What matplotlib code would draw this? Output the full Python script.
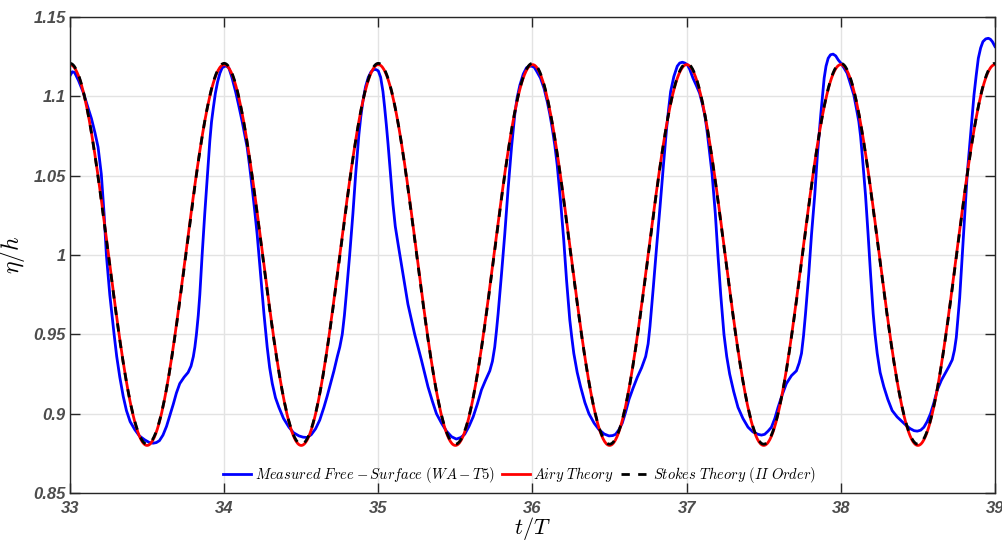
import numpy as np
import matplotlib
matplotlib.use('Agg')
import matplotlib.pyplot as plt

#measured free-surface (WA-T5)
t_meas = [33.0, 33.015, 33.03, 33.055, 33.084, 33.11, 33.139, 33.162, 33.182, 33.203,
          33.221, 33.236, 33.258, 33.286, 33.303, 33.323, 33.345, 33.366, 33.39, 33.42,
          33.45, 33.485, 33.515, 33.539, 33.56, 33.58, 33.603, 33.626, 33.648, 33.67,
          33.69, 33.712, 33.74, 33.766, 33.785, 33.80, 33.81, 33.82, 33.832, 33.842,
          33.857, 33.874, 33.892, 33.907, 33.918, 33.93, 33.943, 33.957, 33.972, 33.987,
          34.004, 34.015, 34.03, 34.05, 34.074, 34.095, 34.117, 34.133, 34.149, 34.165,
          34.182, 34.198, 34.214, 34.236, 34.258, 34.279, 34.295, 34.312, 34.333, 34.355,
          34.385, 34.42, 34.45, 34.485, 34.512, 34.539, 34.565, 34.593, 34.62, 34.647,
          34.668, 34.69, 34.712, 34.734, 34.75, 34.766, 34.78, 34.792, 34.814, 34.835,
          34.853, 34.874, 34.886, 34.9, 34.917, 34.935, 34.953, 34.972, 34.987, 35.0,
          35.015, 35.03, 35.041, 35.052, 35.063, 35.074, 35.095, 35.11, 35.128, 35.16,
          35.192, 35.236, 35.279, 35.322, 35.35, 35.377, 35.41, 35.442, 35.475, 35.506,
          35.535, 35.56, 35.588, 35.615, 35.642, 35.669, 35.695, 35.723, 35.74, 35.755,
          35.766, 35.777, 35.799, 35.82, 35.842, 35.864, 35.885, 35.9, 35.918, 35.94,
          35.961, 35.978, 35.994, 36.01, 36.026, 36.052, 36.075, 36.095, 36.112, 36.128,
          36.145, 36.16, 36.182, 36.203, 36.221, 36.242, 36.255, 36.268, 36.29, 36.312,
          36.34, 36.366, 36.4, 36.431, 36.465, 36.496, 36.52, 36.539, 36.56, 36.582,
          36.604, 36.626, 36.652, 36.68, 36.708, 36.734, 36.75, 36.762, 36.784, 36.805,
          36.827, 36.848, 36.87, 36.883, 36.896, 36.917, 36.939, 36.955, 36.972, 36.988,
          37.004, 37.02, 37.041, 37.062, 37.084, 37.1, 37.117, 37.13, 37.143, 37.165,
          37.186, 37.203, 37.221, 37.242, 37.26, 37.279, 37.305, 37.333, 37.365, 37.398,
          37.43, 37.463, 37.485, 37.506, 37.528, 37.55, 37.572, 37.593, 37.62, 37.647,
          37.68, 37.712, 37.73, 37.745, 37.758, 37.771, 37.792, 37.81, 37.831, 37.848,
          37.87, 37.892, 37.904, 37.918, 37.933, 37.95, 37.967, 37.983, 38.0, 38.02,
          38.041, 38.062, 38.084, 38.1, 38.117, 38.128, 38.139, 38.16, 38.177, 38.193,
          38.21, 38.222, 38.236, 38.255, 38.279, 38.305, 38.333, 38.365, 38.398, 38.425,
          38.45, 38.475, 38.496, 38.518, 38.539, 38.56, 38.582, 38.604, 38.626, 38.652,
          38.68, 38.703, 38.723, 38.737, 38.749, 38.771, 38.788, 38.805, 38.82, 38.842,
          38.864, 38.878, 38.892, 38.907, 38.922, 38.94, 38.957, 38.97, 38.983, 39.0]
eta_meas = [1.113, 1.1155, 1.115, 1.110, 1.103, 1.095, 1.086, 1.077, 1.068, 1.051,
            1.026, 1.0, 0.975, 0.950, 0.936, 0.923, 0.911, 0.902, 0.895, 0.890,
            0.886, 0.8835, 0.8818, 0.8814, 0.8818, 0.883, 0.8865, 0.892, 0.899, 0.906,
            0.913, 0.919, 0.923, 0.926, 0.930, 0.936, 0.942, 0.950, 0.962, 0.975,
            1.0, 1.026, 1.051, 1.072, 1.084, 1.093, 1.102, 1.109, 1.1145, 1.118,
            1.119, 1.119, 1.118, 1.112, 1.103, 1.094, 1.084, 1.076, 1.068, 1.056,
            1.042, 1.028, 1.013, 0.988, 0.963, 0.942, 0.929, 0.919, 0.910, 0.904,
            0.897, 0.8915, 0.888, 0.886, 0.8852, 0.885, 0.8868, 0.8905, 0.896, 0.904,
            0.911, 0.919, 0.927, 0.936, 0.942, 0.950, 0.962, 0.975, 1.0, 1.026,
            1.051, 1.076, 1.087, 1.097, 1.106, 1.112, 1.1155, 1.117, 1.1168, 1.116,
            1.112, 1.103, 1.093, 1.082, 1.070, 1.057, 1.032, 1.018, 1.007, 0.988,
            0.969, 0.950, 0.934, 0.917, 0.908, 0.900, 0.894, 0.889, 0.8855, 0.884,
            0.885, 0.887, 0.892, 0.898, 0.906, 0.915, 0.921, 0.927, 0.933, 0.942,
            0.952, 0.963, 0.988, 1.013, 1.042, 1.068, 1.0885, 1.099, 1.107, 1.114,
            1.118, 1.119, 1.119, 1.1185, 1.116, 1.1115, 1.105, 1.097, 1.089, 1.080,
            1.069, 1.057, 1.034, 1.009, 0.984, 0.959, 0.948, 0.938, 0.926, 0.917,
            0.907, 0.900, 0.894, 0.890, 0.8872, 0.886, 0.8862, 0.887, 0.8898, 0.894,
            0.901, 0.909, 0.916, 0.923, 0.929, 0.936, 0.944, 0.955, 0.980, 1.005,
            1.030, 1.055, 1.080, 1.092, 1.103, 1.1125, 1.119, 1.121, 1.1215, 1.121,
            1.120, 1.117, 1.1115, 1.107, 1.102, 1.096, 1.0885, 1.080, 1.0695, 1.051,
            1.026, 1.0, 0.975, 0.950, 0.936, 0.925, 0.914, 0.904, 0.897, 0.8915,
            0.8885, 0.887, 0.8865, 0.887, 0.889, 0.8915, 0.897, 0.904, 0.912, 0.919,
            0.924, 0.927, 0.932, 0.938, 0.949, 0.963, 0.988, 1.013, 1.038, 1.063,
            1.0885, 1.1115, 1.119, 1.124, 1.1262, 1.1266, 1.1255, 1.123, 1.121, 1.118,
            1.1146, 1.108, 1.101, 1.093, 1.084, 1.075, 1.063, 1.038, 1.013, 0.988,
            0.963, 0.950, 0.938, 0.926, 0.917, 0.909, 0.902, 0.898, 0.895, 0.8925,
            0.8906, 0.8893, 0.889, 0.8896, 0.8915, 0.895, 0.900, 0.907, 0.915, 0.921,
            0.926, 0.930, 0.934, 0.940, 0.948, 0.973, 1.0, 1.026, 1.051, 1.076,
            1.101, 1.113, 1.124, 1.1305, 1.1345, 1.1362, 1.1366, 1.136, 1.1345, 1.1314]

#wave parameters
t_start, t_end = 33, 39
mean_level = 1.0
amp_1 = 0.12      #first order amplitude
amp_2 = 0.0008    #second order (Stokes) correction
period = 1.0

#theory curves
t_th = np.linspace(t_start, t_end, 1200)
phase = 2*np.pi*(t_th - t_start)/period
eta_airy = mean_level + amp_1*np.cos(phase)
eta_stokes = mean_level + amp_1*np.cos(phase) + amp_2*np.cos(2*phase)

x_ticks = [33, 34, 35, 36, 37, 38, 39]
y_ticks = [0.85, 0.9, 0.95, 1.0, 1.05, 1.1, 1.15]
y_tick_labels = ['0.85', '0.9', '0.95', '1', '1.05', '1.1', '1.15']

plt.rcParams['mathtext.fontset'] = 'cm'

fig = plt.figure(figsize=(10.03, 5.40), dpi=100)
ax = fig.add_axes([0.0698, 0.087, 0.9222, 0.8815])

ax.plot(t_meas, eta_meas, color='#0000ff', lw=2, label=r'$Measured\ Free-Surface\ (WA-T5)$')
ax.plot(t_th, eta_airy, color='#ff0000', lw=2, label=r'$Airy\ Theory$')
ax.plot(t_th, eta_stokes, color='k', lw=2, ls=(0, (3, 3)), label=r'$Stokes\ Theory\ (II\ Order)$')

ax.set_xlim(t_start, t_end)
ax.set_ylim(0.85, 1.15)
ax.set_xticks(x_ticks)
ax.set_yticks(y_ticks)
ax.set_yticklabels(y_tick_labels)

for lab in ax.get_xticklabels() + ax.get_yticklabels():
    lab.set_fontfamily('Liberation Sans')
    lab.set_fontweight('bold')
    lab.set_fontstyle('italic')
    lab.set_fontsize(12)
    lab.set_color('#4d4d4d')

ax.tick_params(direction='in', length=7, width=1, top=True, right=True, color='#262626')
ax.tick_params(axis='x', pad=6)
ax.tick_params(axis='y', pad=3)
ax.grid(True, color='#e3e3e3', lw=1)
ax.set_axisbelow(True)
for sp in ax.spines.values():
    sp.set_color('#262626')
    sp.set_linewidth(1)

ax.set_xlabel(r'$t/T$', fontsize=16)
ax.xaxis.set_label_coords(0.5, -0.046)
ax.set_ylabel(r'$\eta/h$', fontsize=17)
ax.yaxis.set_label_coords(-0.046, 0.5)

leg = ax.legend(loc='center', ncol=3, frameon=False, fontsize=10.5,
                handlelength=1.9, handletextpad=0.25, columnspacing=0.5,
                bbox_to_anchor=(0.486, 0.038))

fig.savefig('out.png', dpi=100)
